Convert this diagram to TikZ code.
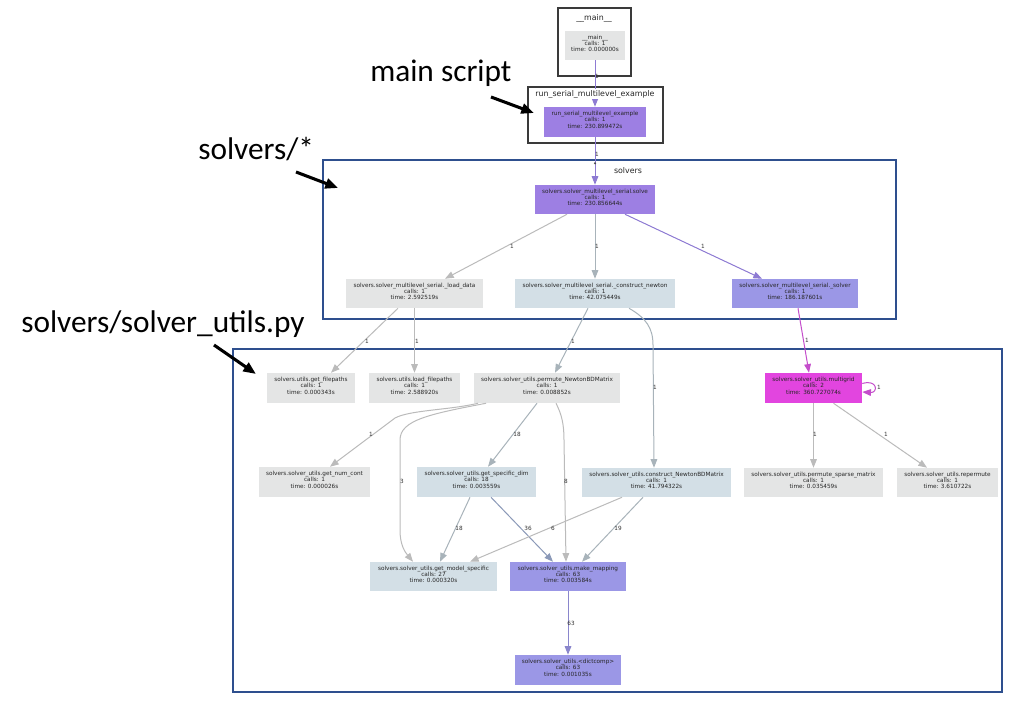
\documentclass[tikz,border=0pt]{standalone}
\usepackage{fontspec}
\setmainfont{DejaVu Sans}
\newfontfamily\annfont{Carlito}
\usetikzlibrary{arrows.meta,calc,fit}

\definecolor{ngray}{HTML}{E4E5E5}
\definecolor{nblue}{HTML}{D3DFE6}
\definecolor{npurple}{HTML}{9D7FE3}
\definecolor{nlav}{HTML}{9B97E6}
\definecolor{nmag}{HTML}{E245DF}
\definecolor{egray}{HTML}{BBBBBB}
\definecolor{ebgray}{HTML}{A8B3BA}
\definecolor{epurple}{HTML}{8E7BD3}
\definecolor{emag}{HTML}{C44DCB}
\definecolor{eblue}{HTML}{8B99B8}
\definecolor{elav}{HTML}{8A86CC}
\definecolor{cblue}{HTML}{2E4F8E}
\definecolor{cdark}{HTML}{3A3A3A}

\tikzset{
 gn/.style={inner sep=0pt, align=center, font=\fontsize{4.3}{4.6}\selectfont, text=black!85},
 ct/.style={font=\fontsize{5.9}{6.5}\selectfont, inner sep=0.5pt, text=black!85, fill=white},
 ed/.style={line width=0.75pt, -{Triangle[length=6.5pt,width=5pt]}},
 el/.style={font=\fontsize{4.3}{4.6}\selectfont, inner sep=0pt, text=black!80},
 ann/.style={font=\annfont\fontsize{23.5}{28}\selectfont, inner sep=0pt, anchor=base west},
 annarr/.style={line width=2.3pt, -{Triangle[length=9.5pt,width=7.5pt]}},
 clbox/.style={draw=cblue, line width=1.6pt},
 grbox/.style={draw=cdark, line width=1.5pt, fill=white},
}

\begin{document}
\begin{tikzpicture}[x=0.75pt,y=-0.75pt]
\useasboundingbox[fill=white] (0,0) rectangle (1013,720);

% cluster boxes
\draw[grbox] (558,8) rectangle (631,76);
\draw[grbox] (528,87) rectangle (663,143);
\draw[clbox] (323,160) rectangle (896,319);
\draw[clbox] (233,349) rectangle (1002,692);

% nodes
\node[gn, fill=ngray, fit={(565,31) (625,60)}] (main) {\_\_main\_\_\\calls: 1\\time: 0.000000s};
\node[gn, fill=npurple, fit={(544,107) (646,137)}] (run) {run\_serial\_multilevel\_example\\calls: 1\\time: 230.899472s};
\node[gn, fill=npurple, fit={(535,185) (655,214)}] (solve) {solvers.solver\_multilevel\_serial.solve\\calls: 1\\time: 230.856644s};
\node[gn, fill=ngray, fit={(346,279) (483,308)}] (load) {solvers.solver\_multilevel\_serial.\_load\_data\\calls: 1\\time: 2.592519s};
\node[gn, fill=nblue, fit={(515,279) (675,308)}] (cnewton) {solvers.solver\_multilevel\_serial.\_construct\_newton\\calls: 1\\time: 42.075449s};
\node[gn, fill=nlav, fit={(732,279) (858,308)}] (solver) {solvers.solver\_multilevel\_serial.\_solver\\calls: 1\\time: 186.187601s};
\node[gn, fill=ngray, fit={(267,373) (355,403)}] (getfp) {solvers.utils.get\_filepaths\\calls: 1\\time: 0.000343s};
\node[gn, fill=ngray, fit={(369,373) (460,403)}] (loadfp) {solvers.utils.load\_filepaths\\calls: 1\\time: 2.588920s};
\node[gn, fill=ngray, fit={(474,373) (620,403)}] (perm) {solvers.solver\_utils.permute\_NewtonBDMatrix\\calls: 1\\time: 0.008852s};
\node[gn, fill=nmag, fit={(765,373) (862,403)}] (mg) {solvers.solver\_utils.multigrid\\calls: 2\\time: 360.727074s};
\node[gn, fill=ngray, fit={(259,467) (370,497)}] (numcont) {solvers.solver\_utils.get\_num\_cont\\calls: 1\\time: 0.000026s};
\node[gn, fill=nblue, fit={(417,467) (536,497)}] (specdim) {solvers.solver\_utils.get\_specific\_dim\\calls: 18\\time: 0.003559s};
\node[gn, fill=nblue, fit={(582,468) (731,497)}] (cnbd) {solvers.solver\_utils.construct\_NewtonBDMatrix\\calls: 1\\time: 41.794322s};
\node[gn, fill=ngray, fit={(744,468) (883,497)}] (psparse) {solvers.solver\_utils.permute\_sparse\_matrix\\calls: 1\\time: 0.035459s};
\node[gn, fill=ngray, fit={(897,468) (998,497)}] (reperm) {solvers.solver\_utils.repermute\\calls: 1\\time: 3.610722s};
\node[gn, fill=nblue, fit={(370,562) (497,591)}] (mspec) {solvers.solver\_utils.get\_model\_specific\\calls: 27\\time: 0.000320s};
\node[gn, fill=nlav, fit={(510,562) (626,591)}] (mmap) {solvers.solver\_utils.make\_mapping\\calls: 63\\time: 0.003584s};
\node[gn, fill=nlav, fit={(515,655) (621,685)}] (dcomp) {solvers.solver\_utils.<dictcomp>\\calls: 63\\time: 0.001035s};

% edges
\draw[ed, epurple] (main.south) -- (run.north);
\draw[ed, epurple] (run.south) -- node[pos=0.55, circle, fill=black!70, inner sep=0.6pt] (dot) {} (solve.north);
\draw[ed, egray] ($(solve.south)+(-28,0)$) -- ($(load.north)+(30.5,0)$);
\draw[ed, ebgray] (solve.south) -- (cnewton.north);
\draw[ed, epurple] ($(solve.south)+(30,0)$) -- ($(solver.north)+(-33,0)$);
\draw[ed, egray] ($(load.south)+(-16.5,0)$) -- ($(getfp.north)+(20,0)$);
\draw[ed, egray] (load.south) -- (loadfp.north);
\draw[ed, ebgray] ($(cnewton.south)+(-7,0)$) -- ($(perm.north)+(8,0)$);
\draw[ed, ebgray] ($(cnewton.south)+(34,0)$) .. controls (646,318) and (653,328) .. (653,345) -- ($(cnbd.north)+(-2.5,0)$);
\draw[ed, emag] ($(solver.south)+(3,0)$) -- ($(mg.north)+(-4.5,0)$);
\draw[ed, emag] ($(mg.east)+(0,-4.5)$) .. controls (878,379) and (878,393) .. ($(mg.east)+(0,4)$);
\draw[ed, egray] (mg.south) -- (psparse.north);
\draw[ed, egray] ($(mg.south)+(20,0)$) -- ($(reperm.north)+(-20.5,0)$);
\draw[ed, egray] ($(perm.south)+(-69,0)$) .. controls (450,410) and (410,410) .. (395,418) -- ($(numcont.north)+(15.5,0)$);
\draw[ed, egray] ($(perm.south)+(-61,0)$) .. controls (430,414) and (400,420) .. (400,440) -- (400,530) .. controls (400,545) and (405,552) .. ($(mspec.north)+(-20.5,0)$);
\draw[ed, ebgray] ($(perm.south)+(-10,0)$) -- ($(specdim.north)+(11.5,0)$);
\draw[ed, egray] ($(perm.south)+(9,0)$) .. controls (562,415) and (564,425) .. (564,440) -- ($(mmap.north)+(-2,0)$);
\draw[ed, ebgray] ($(specdim.south)+(-6.5,0)$) -- ($(mspec.north)+(6.5,0)$);
\draw[ed, eblue] ($(specdim.south)+(14.5,0)$) -- ($(mmap.north)+(-15,0)$);
\draw[ed, egray] ($(cnbd.south)+(-34.5,0)$) -- ($(mspec.north)+(36.5,0)$);
\draw[ed, ebgray] ($(cnbd.south)+(-13.5,0)$) -- ($(mmap.north)+(14,0)$);
\draw[ed, elav] (mmap.south) -- (dcomp.north);

% cluster titles
\node[ct] (tmain) at (594,18) {\_\_main\_\_};
\node[ct] (trun) at (595,94) {run\_serial\_multilevel\_example};
\node[ct] (tsolv) at (628,171) {solvers};

% edge labels
\node[el] (l1) at (597,76) {1};
\node[el] (l2) at (597,154) {1};
\node[el] (l3) at (512,246) {1};
\node[el] (l4) at (597,246) {1};
\node[el] (l5) at (703,246) {1};
\node[el] (l6) at (367,341) {1};
\node[el] (l7) at (417,341) {1};
\node[el] (l8) at (573,341) {1};
\node[el] (l9) at (655,387) {1};
\node[el] (l10) at (807,340) {1};
\node[el] (l11) at (879,387) {1};
\node[el] (l12) at (815,434) {1};
\node[el] (l13) at (886,434) {1};
\node[el] (l14) at (371,434) {1};
\node[el] (l15) at (402,481) {3};
\node[el] (l16) at (517,434) {18};
\node[el] (l17) at (566,481) {8};
\node[el] (l18) at (459,528) {18};
\node[el] (l19) at (528,528) {36};
\node[el] (l20) at (553,528) {6};
\node[el] (l21) at (618,528) {19};
\node[el] (l22) at (571,623) {63};

% annotations
\node[ann] (amain) at (370,82) {main script};
\node[ann] (asolv) at (198,160) {solvers/*};
\node[ann] (autil) at (21,332) {solvers/solver\_utils.py};
\coordinate (am1) at (491,97);
\coordinate (am2) at (534,113);
\coordinate (as1) at (296,172);
\coordinate (as2) at (338,188);
\coordinate (au1) at (214,345);
\coordinate (au2) at (256,374);
\draw[annarr] (am1) -- (am2);
\draw[annarr] (as1) -- (as2);
\draw[annarr] (au1) -- (au2);
\end{tikzpicture}
\end{document}
